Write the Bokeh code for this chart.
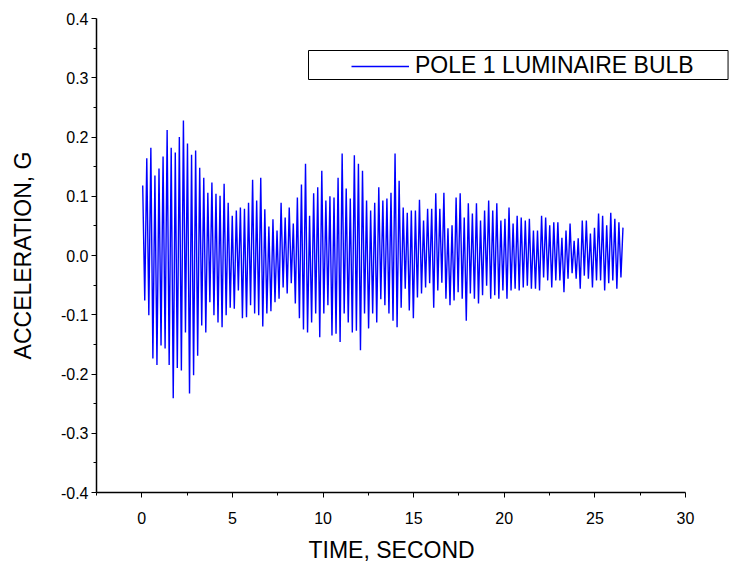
import numpy as np
from bokeh.plotting import figure
from bokeh.models import (FixedTicker, NumeralTickFormatter, Legend, LegendItem,
                          Label, Range1d, ColumnDataSource, Title)
from bokeh.embed import file_html
from bokeh.resources import INLINE

# ---- data (alternating peaks / troughs of the record) ----
peaks = [
    0.118, 0.164, 0.182, 0.135, 0.147, 0.167, 0.212, 0.182, 0.174, 0.200, 0.228, 0.189,
    0.170, 0.177, 0.148, 0.131, 0.106, 0.123, 0.104, 0.101, 0.121, 0.089, 0.067,
    0.076, 0.081, 0.079, 0.089, 0.128, 0.093, 0.131, 0.078, 0.049, 0.061, 0.042, 0.089,
    0.064, 0.081, 0.054, 0.098, 0.120, 0.155, 0.067, 0.105, 0.115, 0.143, 0.093, 0.100,
    0.098, 0.131, 0.172, 0.113, 0.096, 0.169, 0.155, 0.143, 0.093, 0.076, 0.089, 0.115,
    0.093, 0.096, 0.106, 0.172, 0.126, 0.081, 0.072, 0.076, 0.076, 0.094, 0.059, 0.079,
    0.079, 0.105, 0.079, 0.106, 0.046, 0.051, 0.098, 0.105, 0.064, 0.088, 0.071, 0.088,
    0.059, 0.076, 0.093, 0.076, 0.088, 0.059, 0.062, 0.081, 0.054, 0.067, 0.064, 0.059,
    0.062, 0.042, 0.042, 0.067, 0.064, 0.051, 0.056, 0.056, 0.030, 0.042, 0.054, 0.025,
    0.029, 0.059, 0.059, 0.037, 0.047, 0.071, 0.067, 0.051, 0.072, 0.062, 0.056, 0.047,
]
troughs = [
    -0.076, -0.101, -0.174, -0.185, -0.152, -0.157, -0.185, -0.241, -0.190, -0.194, -0.130,
    -0.233, -0.202, -0.169, -0.118, -0.130, -0.079, -0.101, -0.113, -0.121, -0.101, -0.088, -0.090,
    -0.059, -0.106, -0.104, -0.084, -0.098, -0.101, -0.120, -0.098, -0.094, -0.079, -0.073, -0.054,
    -0.064, -0.047, -0.081, -0.106, -0.125, -0.130, -0.113, -0.098, -0.138, -0.098, -0.084, -0.135,
    -0.132, -0.146, -0.098, -0.113, -0.130, -0.127, -0.160, -0.098, -0.123, -0.098, -0.113, -0.074,
    -0.084, -0.098, -0.110, -0.121, -0.088, -0.056, -0.093, -0.106, -0.071, -0.064, -0.054, -0.047,
    -0.088, -0.059, -0.046, -0.073, -0.084, -0.076, -0.062, -0.073, -0.110, -0.064, -0.073, -0.081,
    -0.067, -0.051, -0.073, -0.067, -0.073, -0.059, -0.073, -0.059, -0.056, -0.059, -0.054,
    -0.051, -0.056, -0.056, -0.059, -0.037, -0.042, -0.054, -0.042, -0.042, -0.062, -0.039, -0.030,
    -0.039, -0.056, -0.034, -0.039, -0.054, -0.042, -0.042, -0.059, -0.047, -0.042, -0.056, -0.037,
]
record_start = 0.05      # s
record_end = 26.55       # s

x_ticks = [0, 5, 10, 15, 20, 25, 30]
x_minor = [-2.5, 2.5, 7.5, 12.5, 17.5, 22.5, 27.5]
y_ticks = [-0.4, -0.3, -0.2, -0.1, 0.0, 0.1, 0.2, 0.3, 0.4]
y_minor = [-0.35, -0.25, -0.15, -0.05, 0.05, 0.15, 0.25, 0.35]
x_axis_span = (-2.5, 30)
y_axis_span = (-0.4, 0.4)

series_label = "POLE 1 LUMINAIRE BULB"
x_label = "TIME, SECOND"
y_label = "ACCELERATION, G"

# ---- build the series ----
accel = []
for pk, tr in zip(peaks, troughs):
    accel.extend([pk, tr])
accel.extend(peaks[len(troughs):])
time = np.linspace(record_start, record_end, len(accel))
src = ColumnDataSource(dict(t=time, a=accel))

FONT = "Liberation Sans"

# axis drawn over 589 px (96..685); the frame continues to the window edge so the
# legend box may reach past the end of the x axis as in the original
AXIS_PX = 589
FRAME_PX = 637
x_end = x_axis_span[0] + (x_axis_span[1] - x_axis_span[0]) * FRAME_PX / AXIS_PX

p = figure(frame_width=FRAME_PX, frame_height=474, output_backend="svg", toolbar_location=None,
           x_range=Range1d(x_axis_span[0], x_end), y_range=Range1d(*y_axis_span),
           min_border_left=96, min_border_right=0, min_border_top=18, min_border_bottom=79,
           background_fill_color="white", border_fill_color="white")
p.outline_line_color = None
p.xgrid.visible = False
p.ygrid.visible = False

r = p.line("t", "a", source=src, line_color="#0000FF", line_width=1.4)

for ax in (p.xaxis[0], p.yaxis[0]):
    ax.axis_line_color = "black"
    ax.axis_line_width = 1.5
    ax.major_tick_line_color = "black"
    ax.minor_tick_line_color = "black"
    ax.major_tick_line_width = 1
    ax.minor_tick_line_width = 1
    ax.major_tick_out = 5
    ax.major_tick_in = 0
    ax.minor_tick_out = 3
    ax.minor_tick_in = 0
    ax.major_label_text_font = FONT
    ax.major_label_text_font_size = "16px"
    ax.major_label_text_color = "black"
    ax.axis_label_text_font = FONT
    ax.axis_label_text_font_size = "23px"
    ax.axis_label_text_font_style = "normal"
    ax.axis_label_text_color = "black"

p.xaxis.bounds = x_axis_span
p.xaxis.ticker = FixedTicker(ticks=x_ticks, minor_ticks=x_minor)
p.yaxis.ticker = FixedTicker(ticks=y_ticks, minor_ticks=y_minor)
p.yaxis.formatter = NumeralTickFormatter(format="0.0")
p.yaxis.axis_label = y_label
p.xaxis.major_label_standoff = 14
p.yaxis.major_label_standoff = 3
p.yaxis.axis_label_standoff = 22

# x-axis title, centred under the drawn axis (96..685 px) rather than the wider frame
xtitle = Title(text=x_label, align="left", offset=212, standoff=16,
               text_font=FONT, text_font_size="23px", text_font_style="normal",
               text_color="black")
p.add_layout(xtitle, "below")

legend = Legend(items=[LegendItem(label=series_label, renderers=[r])],
                location=(255, 413), padding=0, margin=0, spacing=0,
                glyph_width=58, glyph_height=20, label_standoff=6,
                label_text_font=FONT, label_text_font_size="23px",
                label_text_color="black",
                border_line_color=None, background_fill_alpha=0)
p.add_layout(legend)

# frame of the legend box
box = Label(x=308, y=50, x_units="canvas", y_units="canvas", text=" ",
            anchor="top_left", text_font_size="20px",
            padding=dict(left=207, right=207, top=3, bottom=4),
            border_line_color="black", border_line_width=1,
            background_fill_alpha=0)
p.add_layout(box)

open("out.html", "w").write(file_html(p, INLINE))
